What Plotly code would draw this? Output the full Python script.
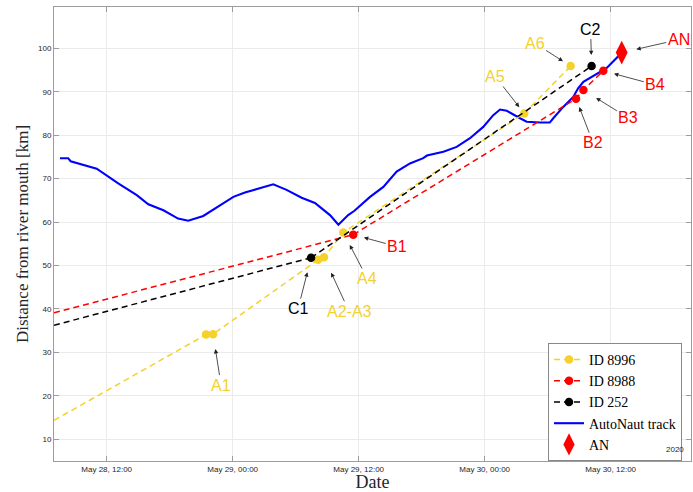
import plotly.graph_objects as go

# ---------------- data ----------------
track_time = [
    "2020-05-28 07:33", "2020-05-28 08:20", "2020-05-28 08:34", "2020-05-28 11:03",
    "2020-05-28 13:06", "2020-05-28 14:52", "2020-05-28 15:58", "2020-05-28 17:24",
    "2020-05-28 18:48", "2020-05-28 19:46", "2020-05-28 21:12", "2020-05-28 22:57",
    "2020-05-29 00:04", "2020-05-29 01:10", "2020-05-29 02:26", "2020-05-29 03:52",
    "2020-05-29 05:08", "2020-05-29 06:34", "2020-05-29 07:50", "2020-05-29 09:16",
    "2020-05-29 10:04", "2020-05-29 11:00", "2020-05-29 11:36", "2020-05-29 13:05",
    "2020-05-29 14:21", "2020-05-29 15:37", "2020-05-29 16:53", "2020-05-29 18:09",
    "2020-05-29 18:30", "2020-05-29 20:04", "2020-05-29 21:20", "2020-05-29 22:36",
    "2020-05-29 23:52", "2020-05-30 00:49", "2020-05-30 01:28", "2020-05-30 02:06",
    "2020-05-30 03:22", "2020-05-30 04:00", "2020-05-30 05:16", "2020-05-30 06:12",
    "2020-05-30 06:32", "2020-05-30 07:29", "2020-05-30 08:26", "2020-05-30 08:54",
    "2020-05-30 09:24", "2020-05-30 10:18", "2020-05-30 11:36", "2020-05-30 12:42",
    "2020-05-30 13:03",
]
track_dist = [
    74.7, 74.7, 74.0, 72.3,
    68.9, 66.2, 64.1, 62.7,
    60.8, 60.3, 61.4, 64.1,
    65.8, 66.8, 67.7, 68.7,
    67.4, 65.6, 64.4, 61.6,
    59.4, 61.6, 62.6, 65.8,
    68.1, 71.6, 73.5, 74.7,
    75.3, 76.2, 77.3, 79.3,
    81.9, 84.6, 85.9, 85.6,
    83.9, 83.1, 82.9, 82.9,
    83.9, 86.5, 88.8, 90.8,
    92.3, 93.6, 95.4, 98.1,
    99.0,
]

# drifter ID 8996 (A points)
a_time = ["2020-05-28 21:28", "2020-05-28 22:08", "2020-05-29 08:08", "2020-05-29 08:42",
          "2020-05-29 10:32", "2020-05-30 03:46", "2020-05-30 08:11"]
a_dist = [34.1, 34.2, 51.3, 51.9, 57.6, 85.0, 95.9]
a_back_time = ["2020-05-28 06:59", "2020-05-28 21:28"]
a_back_dist = [14.35, 34.1]

# drifter ID 8988 (B points)
b_time = ["2020-05-29 11:29", "2020-05-30 08:42", "2020-05-30 09:24", "2020-05-30 11:18"]
b_dist = [57.1, 88.4, 90.4, 94.8]
b_back_time = ["2020-05-28 06:59", "2020-05-29 11:29"]
b_back_dist = [39.1, 57.1]

# drifter ID 252 (C points)
c_time = ["2020-05-29 07:28", "2020-05-30 10:11"]
c_dist = [51.8, 95.9]
c_back_time = ["2020-05-28 06:59", "2020-05-29 07:28"]
c_back_dist = [36.25, 51.8]

# AutoNaut final position
an_time = ["2020-05-30 13:03"]
an_dist = [99.0]

x_ticks = ["2020-05-28 12:00", "2020-05-29 00:00", "2020-05-29 12:00",
           "2020-05-30 00:00", "2020-05-30 12:00"]
y_ticks = [10, 20, 30, 40, 50, 60, 70, 80, 90, 100]

YELLOW = "#F5D12B"
RED = "#FF0000"
BLACK = "#000000"
BLUE = "#0000FF"
DASH = "6px,4px"

fig = go.Figure()

# backward extrapolation segments
for bt, bd, col in [(a_back_time, a_back_dist, YELLOW),
                    (b_back_time, b_back_dist, RED),
                    (c_back_time, c_back_dist, BLACK)]:
    fig.add_trace(go.Scatter(x=bt, y=bd, mode="lines", showlegend=False,
                             line=dict(color=col, width=1.5, dash=DASH), hoverinfo="skip"))

fig.add_trace(go.Scatter(x=track_time, y=track_dist, mode="lines", name="AutoNaut track",
                         line=dict(color=BLUE, width=2.1), legendrank=4))

for t, d, col, nm, rk in [(a_time, a_dist, YELLOW, "ID 8996", 1),
                          (b_time, b_dist, RED, "ID 8988", 2),
                          (c_time, c_dist, BLACK, "ID 252", 3)]:
    fig.add_trace(go.Scatter(x=t, y=d, mode="lines+markers", name=nm, legendrank=rk,
                             line=dict(color=col, width=1.5, dash=DASH),
                             marker=dict(color=col, size=8.5, line=dict(width=0))))

fig.add_trace(go.Scatter(x=an_time, y=an_dist, mode="markers", name="AN", legendrank=5,
                         marker=dict(symbol="diamond-tall", color=RED, size=17, line=dict(width=0))))

# labels: (times, dists, index, text, ax, ay, standoff, color)
labels = [
    (a_time, a_dist, 1, "A1", 8, 51, 15, YELLOW),
    (a_time, a_dist, 3, "A2-A3", 25, 54, 17, YELLOW),
    (c_time, c_dist, 0, "C1", -13, 51, 15, BLACK),
    (a_time, a_dist, 4, "A4", 24, 46, 14, YELLOW),
    (b_time, b_dist, 0, "B1", 44, 12, 11, RED),
    (a_time, a_dist, 5, "A5", -29, -37, 8, YELLOW),
    (a_time, a_dist, 6, "A6", -36, -23, 9, YELLOW),
    (c_time, c_dist, 1, "C2", -1, -37, 11, BLACK),
    (an_time, an_dist, 0, "AN", 57, -13, 15, RED),
    (b_time, b_dist, 3, "B4", 52, 14, 11, RED),
    (b_time, b_dist, 2, "B3", 45, 28, 15, RED),
    (b_time, b_dist, 1, "B2", 17, 44, 9, RED),
]
for t, d, i, txt, ax, ay, so, col in labels:
    fig.add_annotation(x=t[i], y=d[i], xref="x", yref="y", text=txt, showarrow=True,
                       ax=ax, ay=ay, standoff=so, arrowhead=2, arrowsize=1.1,
                       arrowwidth=0.8, arrowcolor="#222222",
                       font=dict(family="Liberation Sans, Arial", size=16, color=col))

fig.add_annotation(x=676 / 693, y=(492 - 480) / 492, xref="paper", yref="paper",
                   text="2020", showarrow=False, xanchor="center", yanchor="middle",
                   font=dict(family="Liberation Sans, Arial", size=8, color="#262626"))

AX = "#9c9c9c"
fig.update_layout(
    width=693, height=492,
    margin=dict(l=54, r=2, t=7, b=31, autoexpand=False),
    plot_bgcolor="white", paper_bgcolor="white",
    font=dict(family="Liberation Sans, Arial", size=8, color="#262626"),
    xaxis=dict(
        type="date", range=["2020-05-28 06:59", "2020-05-30 19:39"],
        tickvals=x_ticks, tickformat="%b %d, %H:%M",
        showgrid=True, gridcolor="#ebebeb", gridwidth=1,
        showline=True, linecolor=AX, linewidth=1, mirror="ticks",
        ticks="inside", ticklen=5, tickcolor=AX, zeroline=False,
        title=dict(text="Date", standoff=4,
                   font=dict(family="Liberation Serif, Times New Roman", size=18, color="#262626")),
    ),
    yaxis=dict(
        range=[5, 109.5], tickvals=y_ticks,
        showgrid=True, gridcolor="#ebebeb", gridwidth=1,
        showline=True, linecolor=AX, linewidth=1, mirror="ticks",
        ticks="inside", ticklen=5, tickcolor=AX, zeroline=False,
        title=dict(text="Distance from river mouth [km]", standoff=5,
                   font=dict(family="Liberation Serif, Times New Roman", size=17, color="#262626")),
    ),
    legend=dict(
        x=(548 - 54) / 637, y=0, xanchor="left", yanchor="bottom",
        bgcolor="white", bordercolor="#888888", borderwidth=1,
        font=dict(family="Liberation Serif, Times New Roman", size=14, color="#000000"),
        tracegroupgap=0,
    ),
)

fig.write_html("out.html", config={"displayModeBar": False},
               post_script="document.body.style.margin='0';document.body.style.overflow='hidden';")
